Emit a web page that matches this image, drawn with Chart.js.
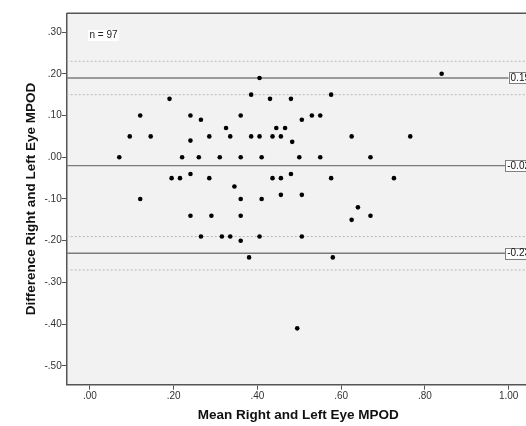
<!DOCTYPE html>
<html><head><meta charset="utf-8">
<script src="https://cdn.jsdelivr.net/npm/chart.js@4"></script>
<style>
html,body{margin:0;padding:0;overflow:hidden;background:#fff;}
#wrap{width:540px;height:426px;position:relative;}
</style></head><body>
<div id="wrap"><canvas id="c"></canvas></div>
<script>
// Bland-Altman data: mean of right & left eye MPOD vs. difference
const meanMPOD = [0.07,0.095,0.12,0.145,0.12,0.19,0.195,0.215,0.22,0.24,0.24,0.24,0.24,0.26,0.265,0.265,0.285,0.285,0.29,0.31,0.315,0.325,0.335,0.335,0.345,0.36,0.36,0.36,0.36,0.36,0.385,0.385,0.38,0.405,0.405,0.405,0.41,0.41,0.43,0.436,0.436,0.445,0.456,0.456,0.456,0.466,0.48,0.483,0.48,0.495,0.50,0.506,0.506,0.506,0.53,0.55,0.55,0.576,0.576,0.58,0.625,0.625,0.64,0.67,0.67,0.726,0.765,0.84];
const diffMPOD = [0.00,0.05,0.10,0.05,-0.10,0.14,-0.05,-0.05,0.00,0.10,0.04,-0.04,-0.14,0.00,0.09,-0.19,0.05,-0.05,-0.14,0.00,-0.19,0.07,0.05,-0.19,-0.07,0.10,0.00,-0.10,-0.14,-0.20,0.15,0.05,-0.24,0.19,0.05,-0.19,0.00,-0.10,0.14,0.05,-0.05,0.07,0.05,-0.05,-0.09,0.07,0.14,0.037,-0.04,-0.41,0.00,0.09,-0.09,-0.19,0.10,0.10,0.00,0.15,-0.05,-0.24,0.05,-0.15,-0.12,0.00,-0.14,-0.05,0.05,0.20];
const sampleSize = 97;
const meanDifference = -0.02;
const limitsOfAgreement = [0.19, -0.23];
const limitCIs = [0.23, 0.15, -0.19, -0.27];
const xTicks = [0, 0.2, 0.4, 0.6, 0.8, 1.0];
const yTicks = [0.3, 0.2, 0.1, 0, -0.1, -0.2, -0.3, -0.4, -0.5];
const xTitle = 'Mean Right and Left Eye MPOD';
const yTitle = 'Difference Right and Left Eye MPOD';
const X_MIN = -0.0556, X_MAX = 1.051, Y_MIN = -0.545, Y_MAX = 0.345;

function fmt(v){
  let s = Math.abs(v).toFixed(2);
  if (s.startsWith('0')) s = s.slice(1);
  return (v < -1e-9 ? '-' : '') + s;
}
const hline = (v) => [{x: X_MIN, y: v}, {x: X_MAX, y: v}];

const datasets = [{
  type: 'scatter',
  data: meanMPOD.map((x, i) => ({x, y: diffMPOD[i]})),
  backgroundColor: '#000', borderColor: '#000',
  pointRadius: 2.3, pointHoverRadius: 2.3, borderWidth: 0, order: 0
}];
limitCIs.forEach(v => datasets.push({
  type: 'line', data: hline(v), borderColor: '#b8b8b8', borderWidth: 1,
  borderDash: [2, 2], pointRadius: 0, order: 2
}));
[meanDifference, ...limitsOfAgreement].forEach(v => datasets.push({
  type: 'line', data: hline(v), borderColor: '#7c7c7c', borderWidth: 1.4,
  pointRadius: 0, order: 1
}));

const FONT = "'Liberation Sans', Arial, sans-serif";

const decor = {
  id: 'decor',
  beforeDraw(chart) {
    const {ctx, chartArea: a} = chart;
    ctx.save();
    ctx.fillStyle = '#f2f2f2';
    ctx.fillRect(a.left, a.top, a.right - a.left, a.bottom - a.top);
    ctx.strokeStyle = '#555'; ctx.lineWidth = 1.5;
    ctx.beginPath(); ctx.moveTo(a.left, a.top); ctx.lineTo(a.right + 10, a.top); ctx.stroke();
    ctx.restore();
  },
  afterDatasetsDraw(chart) {
    const {ctx, chartArea: a, scales: {x, y}} = chart;
    ctx.save();
    ctx.font = '10px ' + FONT;
    ctx.textBaseline = 'middle';
    [limitsOfAgreement[0], meanDifference, limitsOfAgreement[1]].forEach(v => {
      const py = y.getPixelForValue(v);
      const t = v.toFixed(2);
      const w = ctx.measureText(t).width + 4;
      const right = a.right + 2;
      const left = right - w;
      ctx.fillStyle = '#fff';
      ctx.fillRect(left, py - 5.5, w, 11);
      ctx.strokeStyle = '#808080'; ctx.lineWidth = 1;
      ctx.strokeRect(Math.round(left) + 0.5, Math.round(py - 5.5) + 0.5, w, 11);
      ctx.fillStyle = '#111';
      ctx.textAlign = 'left';
      ctx.fillText(t, left + 2, py + 0.5);
    });
    // sample size note
    const nt = 'n = ' + sampleSize;
    const nw = ctx.measureText(nt).width;
    const nx = x.getPixelForValue(0) - 0.5, ny = y.getPixelForValue(0.3) + 3.5;
    ctx.fillStyle = '#fff';
    ctx.fillRect(nx - 1.5, ny - 5.5, nw + 3, 11);
    ctx.fillStyle = '#222';
    ctx.fillText(nt, nx, ny);
    ctx.restore();
  }
};

new Chart(document.getElementById('c'), {
  data: {datasets},
  options: {
    responsive: true, maintainAspectRatio: false, animation: false,
    layout: {padding: {top: 13.3, right: 10, bottom: 0, left: 0}},
    plugins: {legend: {display: false}, tooltip: {enabled: false}},
    scales: {
      x: {
        type: 'linear', min: X_MIN, max: X_MAX,
        afterBuildTicks: s => { s.ticks = xTicks.map(v => ({value: v})); },
        afterFit: s => { s.height = 41.3; },
        ticks: {callback: v => fmt(v), font: {family: FONT, size: 10}, color: '#333',
                padding: 1, maxRotation: 0, autoSkip: false},
        grid: {drawOnChartArea: false, drawTicks: true, tickLength: 5, tickColor: '#555'},
        border: {display: true, color: '#555', width: 1.5},
        title: {display: true, text: xTitle, color: '#111',
                font: {family: FONT, size: 13.5, weight: 'bold'}, padding: {top: 0, bottom: 3}}
      },
      y: {
        type: 'linear', min: Y_MIN, max: Y_MAX,
        afterBuildTicks: s => { s.ticks = yTicks.map(v => ({value: v})); },
        afterFit: s => { s.width = 66.7; },
        ticks: {callback: v => fmt(v), font: {family: FONT, size: 10}, color: '#333',
                padding: 0, autoSkip: false},
        grid: {drawOnChartArea: false, drawTicks: true, tickLength: 5, tickColor: '#555'},
        border: {display: true, color: '#555', width: 1.5},
        title: {display: true, text: yTitle, color: '#111',
                font: {family: FONT, size: 13.5, weight: 'bold'}, padding: {top: 23, bottom: 0}}
      }
    }
  },
  plugins: [decor]
});
</script>
</body></html>
